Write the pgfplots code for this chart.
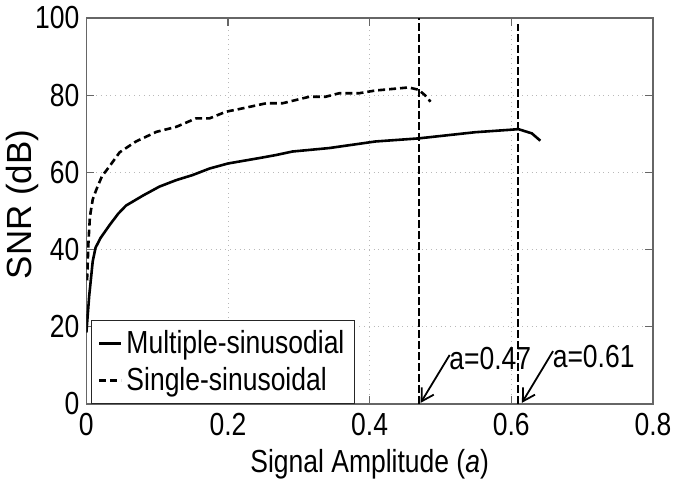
\documentclass[border=0pt]{standalone}
\usepackage{fontspec}
\setmainfont{Liberation Sans}[FakeStretch=0.83]
\newfontfamily\labelfont{Liberation Sans}
\usepackage{pgfplots}
\pgfplotsset{compat=1.18}
\usetikzlibrary{arrows.meta}
\newcommand{\bigf}{\fontsize{16}{19}\selectfont}

\begin{document}
\begin{tikzpicture}
\begin{axis}[
  scale only axis,
  width=284pt, height=193.5pt,
  xmin=0, xmax=0.8, ymin=0, ymax=100,
  xtick={0,0.2,0.4,0.6,0.8},
  ytick={0,20,40,60,80,100},
  /pgf/number format/assume math mode=true,
  tick label style={font=\bigf},
  xticklabel style={yshift=-3.5pt, inner ysep=1pt},
  yticklabel style={xshift=0pt},
  label style={font=\bigf},
  xlabel={Signal Amplitude (\textit{a})},
  ylabel={\labelfont\fontsize{17.5}{20}\selectfont SNR (dB)},
  xlabel style={at={(axis description cs:0.5,-0.155)}, anchor=center, inner ysep=1pt},
  ylabel style={at={(axis description cs:-0.112,0.517)}, anchor=center},
  axis line style={gray!80!black, line width=0.6pt},
  tick style={gray!80!black, line width=0.6pt},
  tick align=inside,
  major tick length=4pt,
  grid=major,
  grid style={gray!55, dotted, line width=0.5pt},
  legend style={font=\bigf, at={(axis description cs:0.009,0)}, anchor=south west,
    draw=black!85, line width=0.5pt, fill=white, inner xsep=3pt, inner ysep=3pt,
    row sep=1.5pt, cells={anchor=west}},
  legend cell align=left,
  legend image code/.code={\draw[#1] (0pt,0pt) -- (11pt,0pt);},
]
\addplot[black, line width=1.3pt] coordinates {
  (0,18.5) (0.004,28) (0.009,37) (0.013,40.5) (0.02,43) (0.033,46.4) (0.045,49.3)
  (0.056,51.4) (0.08,54) (0.103,56.3) (0.127,58) (0.15,59.3) (0.174,61)
  (0.2,62.3) (0.244,63.7) (0.268,64.5) (0.291,65.4) (0.343,66.3) (0.408,68)
  (0.469,68.8) (0.549,70.4) (0.596,71) (0.61,71.2) (0.629,70.1) (0.641,68.2)
};
\addlegendentry{Multiple-sinusodial}
\addplot[black, line width=1.3pt, dash pattern=on 3.5pt off 2pt] coordinates {
  (0.001,32) (0.003,42) (0.005,48.5) (0.009,53) (0.014,55.5) (0.022,59)
  (0.032,61.4) (0.047,65.2) (0.07,68) (0.099,70.5) (0.127,71.8) (0.155,74)
  (0.174,74) (0.197,75.7) (0.221,76.6) (0.254,77.9) (0.277,77.9) (0.315,79.6)
  (0.338,79.6) (0.357,80.5) (0.385,80.5) (0.408,81.2) (0.455,82) (0.469,81.4)
  (0.478,80) (0.486,78.3)
};
\addlegendentry{Single-sinusoidal}
\addplot[black, line width=1pt, dash pattern=on 4pt off 1.5pt, forget plot]
  coordinates {(0.47,0) (0.47,100)};
\addplot[black, line width=1pt, dash pattern=on 4pt off 1.5pt, forget plot]
  coordinates {(0.61,0) (0.61,98.5)};
\draw[black, line width=0.9pt, -{Straight Barb[length=6pt,width=7pt]}]
  (axis cs:0.513,12.7) -- (axis cs:0.472,0.3);
\draw[black, line width=0.9pt, -{Straight Barb[length=6pt,width=7pt]}]
  (axis cs:0.659,13.7) -- (axis cs:0.615,0.3);
\node[font=\bigf, anchor=west, inner sep=0pt] at (axis cs:0.512,11.8) {a=0.47};
\node[font=\bigf, anchor=west, inner sep=0pt] at (axis cs:0.658,12.3) {a=0.61};
\end{axis}
\end{tikzpicture}
\end{document}
